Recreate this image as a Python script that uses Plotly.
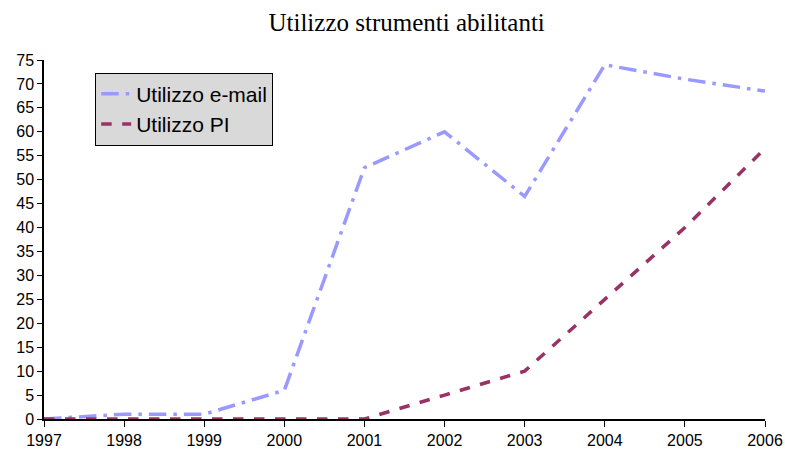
import plotly.graph_objects as go

years = [1997, 1998, 1999, 2000, 2001, 2002, 2003, 2004, 2005, 2006]
email = [0, 1, 1, 6, 52.5, 60, 46.5, 74, 71, 68.5]
pi = [0, 0, 0, 0, 0, 5, 10, 25, 40, 56.5]
y_ticks = list(range(0, 80, 5))

fig = go.Figure()
fig.add_trace(go.Scatter(x=years, y=email, mode="lines", name="Utilizzo e-mail",
                         line=dict(color="#9999FF", width=3.5, dash="longdashdot")))
fig.add_trace(go.Scatter(x=years, y=pi, mode="lines", name="Utilizzo PI",
                         line=dict(color="#993366", width=3.5, dash="dash")))

fig.update_layout(
    width=785, height=452,
    margin=dict(l=44, r=20, t=60, b=33),
    paper_bgcolor="white", plot_bgcolor="white",
    title=dict(text="Utilizzo strumenti abilitanti", x=0.518, xanchor="center",
               y=0.951, yanchor="middle",
               font=dict(family="Liberation Serif", size=25, color="black")),
    font=dict(family="Liberation Sans", size=16, color="black"),
    legend=dict(x=0.071, y=0.965, xanchor="left", yanchor="top", itemwidth=30,
                bgcolor="#D9D9D9", bordercolor="black", borderwidth=1,
                font=dict(family="Liberation Sans", size=21, color="black")),
    showlegend=True,
)
fig.update_xaxes(range=[1997, 2006], tickvals=years, ticktext=[str(y) for y in years],
                 showgrid=False, zeroline=False, showline=True, linecolor="black",
                 linewidth=1.5, ticks="outside", ticklen=6, tickcolor="black",
                 tickfont=dict(size=16), automargin=False)
fig.update_yaxes(range=[0, 75], tickvals=y_ticks, showgrid=False, zeroline=False,
                 showline=True, linecolor="black", linewidth=1.5, ticks="outside",
                 ticklen=5, tickcolor="black", tickfont=dict(size=16), automargin=False)

fig.write_html(
    "out.html",
    config={"displayModeBar": False},
    post_script="document.body.style.margin='0';document.body.style.overflow='hidden';",
)
